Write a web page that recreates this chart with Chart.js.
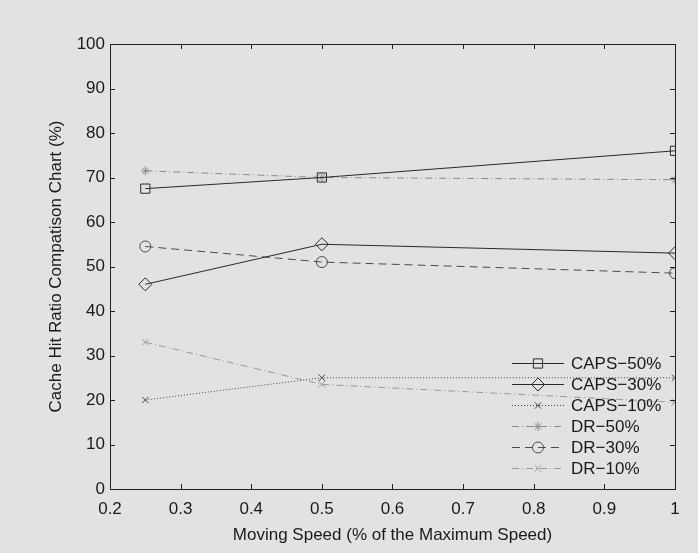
<!DOCTYPE html>
<html>
<head>
<meta charset="utf-8">
<script src="https://cdn.jsdelivr.net/npm/chart.js@4.4.0/dist/chart.umd.min.js"></script>
<style>
  html, body { margin: 0; padding: 0; background: #e2e2e2; }
  #wrap { width: 698px; height: 553px; }
</style>
</head>
<body>
<div id="wrap"><canvas id="chart" width="698" height="553"></canvas></div>
<script>
// moving speed (fraction of max) on x, hit ratio (%) on y
const speeds = [0.25, 0.5, 1];
const caps50 = [67.5, 70, 76];
const caps30 = [46, 55, 53];
const caps10 = [20, 25, 25];
const dr50 = [71.5, 70, 69.5];
const dr30 = [54.5, 51, 48.5];
const dr10 = [33, 23.5, 19.5];

const seriesNames = ["CAPS\u221250%", "CAPS\u221230%", "CAPS\u221210%", "DR\u221250%", "DR\u221230%", "DR\u221210%"];
const seriesValues = [caps50, caps30, caps10, dr50, dr30, dr10];

const styles = [
  { color: "#2a2a2a", dash: [], point: "rect", radius: 6.5 },
  { color: "#2a2a2a", dash: [], point: "rectRot", radius: 6.5 },
  { color: "#444444", dash: [1, 2], point: "crossRot", radius: 4.5 },
  { color: "#8a8a8a", dash: [7, 3, 1, 3], point: "star", radius: 4.5 },
  { color: "#4a4a4a", dash: [8, 5], point: "circle", radius: 5.5 },
  { color: "#9a9a9a", dash: [7, 3, 1, 3], point: "crossRot", radius: 4.5 },
];

const font = "'Liberation Sans', Arial, sans-serif";

const datasets = seriesNames.map((name, i) => ({
  label: name,
  data: speeds.map((s, j) => ({ x: s, y: seriesValues[i][j] })),
  showLine: true,
  borderColor: styles[i].color,
  borderWidth: 1,
  borderDash: styles[i].dash,
  pointStyle: styles[i].point,
  pointRadius: styles[i].radius,
  pointBorderColor: styles[i].color,
  pointBackgroundColor: "rgba(0,0,0,0)",
  pointBorderWidth: 1,
}));

// box around the plot with inward tick marks on all four sides
const frame = {
  id: "frame",
  afterDraw(chart) {
    const { ctx, chartArea: a } = chart;
    const xs = chart.scales.x, ys = chart.scales.y;
    ctx.save();
    ctx.strokeStyle = "#222";
    ctx.lineWidth = 1;
    ctx.strokeRect(a.left + 0.5, a.top + 0.5, a.right - a.left, a.bottom - a.top);
    ctx.beginPath();
    xs.ticks.forEach((t) => {
      const px = Math.round(xs.getPixelForValue(t.value)) + 0.5;
      ctx.moveTo(px, a.bottom); ctx.lineTo(px, a.bottom - 5);
      ctx.moveTo(px, a.top); ctx.lineTo(px, a.top + 5);
    });
    ys.ticks.forEach((t) => {
      const py = Math.round(ys.getPixelForValue(t.value)) + 0.5;
      ctx.moveTo(a.left, py); ctx.lineTo(a.left + 5, py);
      ctx.moveTo(a.right, py); ctx.lineTo(a.right - 5, py);
    });
    ctx.stroke();
    ctx.restore();
  },
};

// legend in the lower right corner, no box
const legendBox = {
  id: "legendBox",
  afterDraw(chart) {
    const ctx = chart.ctx;
    ctx.save();
    ctx.font = "17px " + font;
    ctx.textBaseline = "middle";
    chart.data.datasets.forEach((ds, i) => {
      const y = 363 + i * 21;
      ctx.strokeStyle = ds.borderColor;
      ctx.lineWidth = 1;
      ctx.setLineDash(ds.borderDash);
      ctx.beginPath();
      ctx.moveTo(512, y + 0.5);
      ctx.lineTo(564, y + 0.5);
      ctx.stroke();
      ctx.setLineDash([]);
      ctx.fillStyle = "rgba(0,0,0,0)";
      Chart.helpers.drawPoint(ctx, {
        pointStyle: ds.pointStyle,
        radius: ds.pointRadius,
        rotation: 0,
        borderWidth: 1,
      }, 538, y + 0.5);
      ctx.fillStyle = "#1a1a1a";
      ctx.fillText(ds.label, 571, y + 1);
    });
    ctx.restore();
  },
};

new Chart(document.getElementById("chart"), {
  type: "scatter",
  data: { datasets },
  options: {
    responsive: false,
    animation: false,
    layout: { padding: { top: 44, right: 23, left: 0, bottom: 0 } },
    plugins: { legend: { display: false }, tooltip: { enabled: false } },
    scales: {
      x: {
        type: "linear",
        min: 0.2,
        max: 1,
        grid: { display: false, drawTicks: false },
        border: { display: false },
        afterFit: (s) => { s.height = 64; },
        ticks: {
          stepSize: 0.1,
          padding: 10,
          color: "#1a1a1a",
          font: { family: font, size: 17 },
          callback: (v) => +v.toFixed(1),
        },
        title: {
          display: true,
          text: "Moving Speed (% of the Maximum Speed)",
          color: "#1a1a1a",
          font: { family: font, size: 17 },
          padding: { top: 0, bottom: 7 },
        },
      },
      y: {
        min: 0,
        max: 100,
        grid: { display: false, drawTicks: false },
        border: { display: false },
        afterFit: (s) => { s.width = 110; },
        ticks: {
          stepSize: 10,
          padding: 5,
          color: "#1a1a1a",
          font: { family: font, size: 17 },
        },
        title: {
          display: true,
          text: "Cache Hit Ratio Compatison Chart (%)",
          color: "#1a1a1a",
          font: { family: font, size: 17 },
          padding: { top: 46, bottom: 0 },
        },
      },
    },
  },
  plugins: [frame, legendBox],
});
</script>
</body>
</html>
